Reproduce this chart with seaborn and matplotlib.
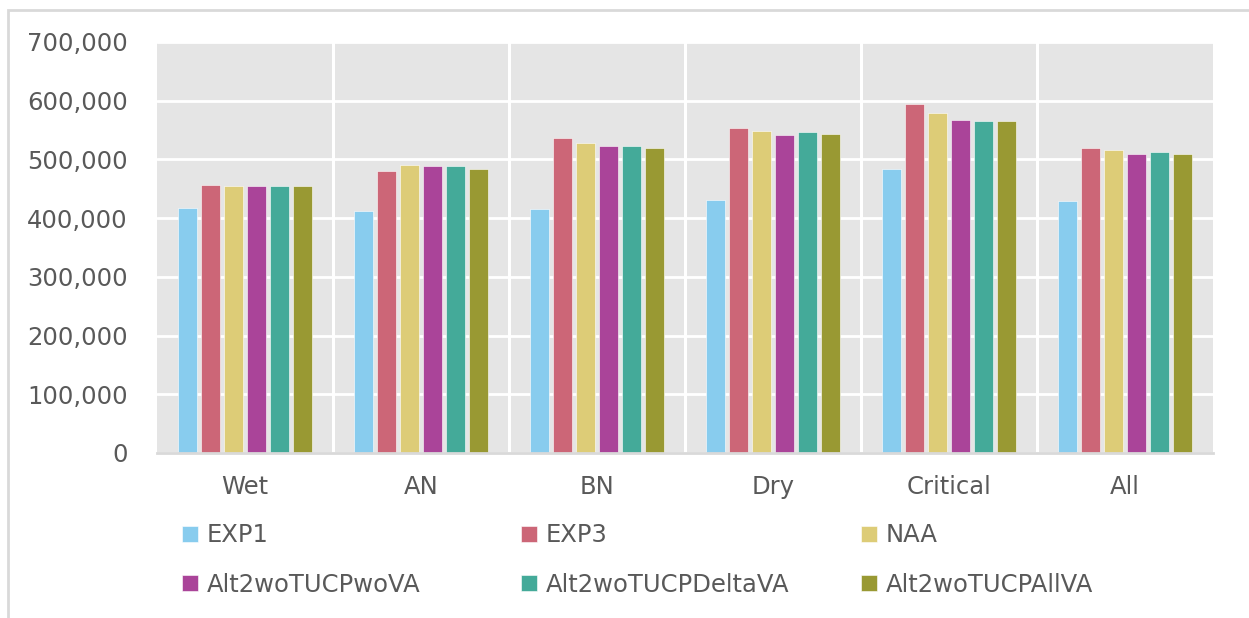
import pandas as pd
import matplotlib as mpl
import matplotlib.pyplot as plt
import matplotlib.ticker as mticker
import seaborn as sns

# chart values (year types x scenarios)
year_types = ["Wet", "AN", "BN", "Dry", "Critical", "All"]
scenarios = ["EXP1", "EXP3", "NAA", "Alt2woTUCPwoVA", "Alt2woTUCPDeltaVA", "Alt2woTUCPAllVA"]

exp1 = [417500, 413000, 415000, 431500, 484000, 429000]
exp3 = [456000, 480000, 537000, 553000, 595000, 519000]
naa = [454000, 491000, 528000, 548000, 579000, 516000]
alt_wo_va = [454000, 488000, 523000, 542000, 567000, 509000]
alt_delta_va = [454000, 488000, 523000, 546000, 565000, 512000]
alt_all_va = [454000, 484000, 519000, 544000, 565000, 509000]

colors = ["#88CCEE", "#CC6677", "#DDCC77", "#AA4499", "#44AA99", "#999933"]
text_color = "#595959"

series = [exp1, exp3, naa, alt_wo_va, alt_delta_va, alt_all_va]
rows = []
for name, vals in zip(scenarios, series):
    for yt, v in zip(year_types, vals):
        rows.append({"year_type": yt, "scenario": name, "value": v})
df = pd.DataFrame(rows)

sns.set_style("white")
mpl.rcParams['font.family'] = ['DejaVu Sans']

fig = plt.figure(figsize=(12.49, 6.18), dpi=100)
ax = fig.add_axes([157 / 1249, 1 - 453 / 618, (1213 - 157) / 1249, (453 - 42) / 618])

sns.barplot(data=df, x="year_type", y="value", hue="scenario",
            order=year_types, hue_order=scenarios, palette=colors,
            saturation=1, width=0.78, gap=0.16, edgecolor="white", linewidth=0.4,
            ax=ax, legend=True)

ax.set_facecolor("#E5E5E5")
ax.set_xlim(-0.5, len(year_types) - 0.5)
ax.set_ylim(0, 700000)
ax.yaxis.set_major_locator(mticker.MultipleLocator(100000))
ax.yaxis.set_major_formatter(mticker.FuncFormatter(lambda v, p: f"{int(v):,}"))

# white category separators + horizontal grid
ax.set_xticks([i + 0.5 for i in range(len(year_types) - 1)], minor=True)
ax.grid(axis="y", which="major", color="white", linewidth=2)
ax.grid(axis="x", which="minor", color="white", linewidth=2.2)
ax.set_axisbelow(True)

for s in ["top", "right", "left"]:
    ax.spines[s].set_visible(False)
ax.spines["bottom"].set_color("#D9D9D9")
ax.spines["bottom"].set_linewidth(2)

ax.set_xlabel("")
ax.set_ylabel("")
ax.tick_params(axis="both", which="both", length=0, labelsize=17.5, labelcolor=text_color)
ax.tick_params(axis="y", pad=21)
ax.tick_params(axis="x", pad=16)

# legend below the plot, laid out as three columns of two entries
handles, labels = ax.get_legend_handles_labels()
ax.get_legend().remove()
col_x = [175, 514, 854]
for k in range(3):
    leg = fig.legend([handles[k], handles[k + 3]], [labels[k], labels[k + 3]],
                     loc="upper left", bbox_to_anchor=(col_x[k] / 1249, 1 - 516 / 618),
                     frameon=False, fontsize=17.5, labelcolor=text_color,
                     handlelength=0.66, handleheight=0.66, handletextpad=0.35,
                     labelspacing=1.05, borderaxespad=0, borderpad=0.3)

# light frame around the whole chart
frame = mpl.patches.Rectangle((7.5 / 1249, -0.05), 1.1, 1 - 10 / 618 + 0.05,
                              transform=fig.transFigure, fill=False,
                              edgecolor="#D9D9D9", linewidth=2, clip_on=False)
fig.patches.append(frame)

fig.savefig("out.png", dpi=100)
